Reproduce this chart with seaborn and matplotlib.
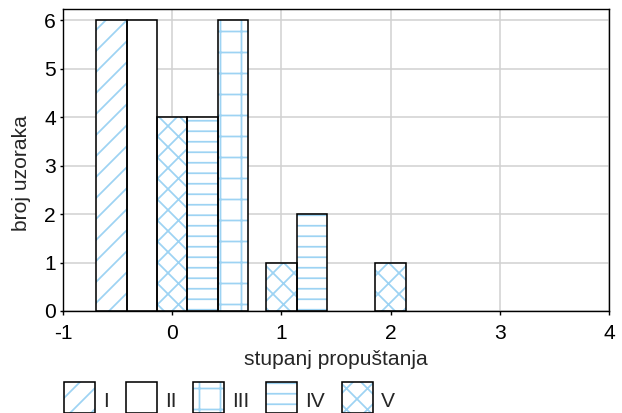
import matplotlib
matplotlib.use("Agg")
import matplotlib.pyplot as plt
import matplotlib.transforms as mtransforms
import pandas as pd
import seaborn as sns
from matplotlib.patches import Patch

# values
degree = [0, 1, 2]
series_I = [6, 0, 0]
series_II = [6, 0, 0]
series_III = [6, 0, 0]
series_IV = [4, 2, 0]
series_V = [4, 1, 1]
x_ticks = [-1, 0, 1, 2, 3, 4]
y_ticks = [0, 1, 2, 3, 4, 5, 6]

LEGEND_ORDER = ["I", "II", "III", "IV", "V"]
BAR_ORDER = ["I", "II", "V", "IV", "III"]      # left-to-right inside a group
HATCH = {"I": "//", "II": "", "III": "+", "IV": "--", "V": "xx"}
BLUE = "#9dd3f3"
DPI = 126

sns.set_theme(style="whitegrid", rc={
    "grid.color": "#d2d2d2", "grid.linewidth": 0.9,
    "hatch.linewidth": 1.0,
})
plt.rcParams["font.family"] = ["Liberation Sans", "DejaVu Sans"]
plt.rcParams["font.size"] = 12

values = {"I": series_I, "II": series_II, "III": series_III,
          "IV": series_IV, "V": series_V}
df = pd.DataFrame([{"x": d, "serija": s, "n": v}
                   for s in LEGEND_ORDER for d, v in zip(degree, values[s])])
df = df[df["n"] > 0]

fig = plt.figure(figsize=(622 / DPI, 413 / DPI), dpi=DPI)
ax = fig.add_axes([63 / 622, 1 - 311 / 413, 546 / 622, 302.5 / 413])

# pass 1: white fill with light blue hatch
sns.barplot(data=df, x="x", y="n", hue="serija", hue_order=BAR_ORDER,
            native_scale=True, width=1.39, dodge=True, errorbar=None,
            palette=["white"] * 5, edgecolor=BLUE, linewidth=0,
            legend=False, ax=ax)
for name, cont in zip(BAR_ORDER, ax.containers):
    for p in cont:
        p.set_hatch(HATCH[name])

# pass 2: black outlines
sns.barplot(data=df, x="x", y="n", hue="serija", hue_order=BAR_ORDER,
            native_scale=True, width=1.39, dodge=True, errorbar=None,
            fill=False, palette=["black"] * 5, linewidth=0.9,
            legend=False, ax=ax)

ax.set_xlim(-1, 4)
ax.set_ylim(0, 6.24)
ax.set_xticks(x_ticks)
ax.set_xticklabels([str(t) for t in x_ticks])
ax.set_yticks(y_ticks)
ax.set_axisbelow(True)
ax.tick_params(bottom=True, left=True, length=2, width=0.8, color="black",
               labelsize=12, labelcolor="black")
ax.tick_params(axis="x", pad=5.5)
ax.tick_params(axis="y", pad=2)
for s in ax.spines.values():
    s.set_color("black"); s.set_linewidth(0.8)
ax.set_xlabel("stupanj propuštanja", fontsize=12, labelpad=4)
ax.set_ylabel("broj uzoraka", fontsize=12)
ax.yaxis.set_label_coords(-0.058, 0.456)

handles = [(Patch(facecolor="white", edgecolor=BLUE, linewidth=0, hatch=HATCH[s]),
            Patch(fill=False, edgecolor="black", linewidth=0.9))
           for s in LEGEND_ORDER]
leg = fig.legend(handles, LEGEND_ORDER, loc="upper left",
                 bbox_to_anchor=(64 / 622, 1 - 382 / 413), ncol=5, frameon=False,
                 borderpad=0, borderaxespad=0, handlelength=1.48, handleheight=1.9,
                 handletextpad=0.38, columnspacing=0.8, fontsize=12)
# nudge labels toward the bottom of the boxes, as in the reference
shift = mtransforms.ScaledTranslation(0, -3 / DPI, fig.dpi_scale_trans)
for t in leg.get_texts():
    t.set_transform(t.get_transform() + shift)

fig.savefig("out.png", dpi=DPI)
